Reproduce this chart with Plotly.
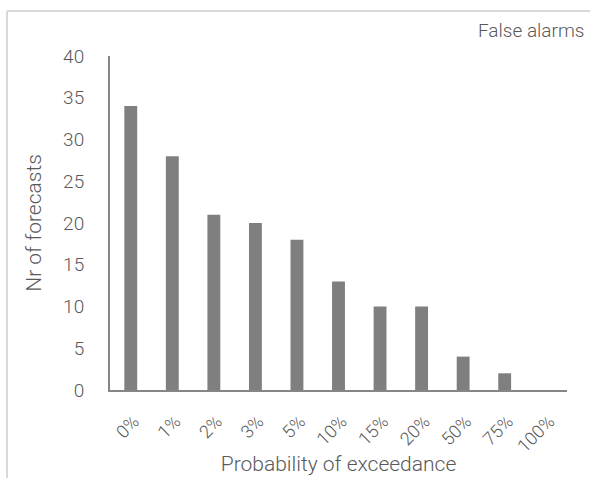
import plotly.graph_objects as go

categories = ["0%", "1%", "2%", "3%", "5%", "10%", "15%", "20%", "50%", "75%", "100%"]
forecasts = [34, 28, 21, 20, 18, 13, 10, 10, 4, 2, 0]
y_ticks = [0, 5, 10, 15, 20, 25, 30, 35, 40]

FONT = "Roboto, Liberation Sans, sans-serif"
TEXT = "#595959"

W, H = 590, 478
ML, MR, MT, MB = 110, 23, 56, 88
pw, ph = W - ML - MR, H - MT - MB


def px_x(x):
    return (x - ML) / pw


def px_y(y):
    return (H - MB - y) / ph


fig = go.Figure(go.Bar(
    x=categories, y=forecasts,
    marker=dict(color="#7f7f7f", line=dict(width=0)),
    width=0.31,
))

# light frame: top and left edges of the chart box
frame = dict(color="#d9d9d9", width=2)
fig.add_shape(type="line", xref="paper", yref="paper",
              x0=px_x(7), x1=px_x(W + 5), y0=px_y(11), y1=px_y(11), line=frame)
fig.add_shape(type="line", xref="paper", yref="paper",
              x0=px_x(7), x1=px_x(7), y0=px_y(11), y1=px_y(H + 5), line=frame)

fig.update_layout(
    width=W, height=H,
    margin=dict(l=ML, r=MR, t=MT, b=MB),
    paper_bgcolor="white", plot_bgcolor="white",
    showlegend=False,
    font=dict(family=FONT, color=TEXT, size=18, weight=300),
    annotations=[dict(text="False alarms", xref="paper", yref="paper",
                      x=px_x(W - 4), y=px_y(31),
                      xanchor="right", yanchor="middle", showarrow=False,
                      font=dict(family=FONT, size=19, color=TEXT, weight=300))],
)
fig.update_xaxes(
    automargin=False,
    showline=True, linecolor="#868686", linewidth=2,
    tickangle=-45, ticks="", showgrid=False,
    ticklabelstandoff=12, ticklabelshift=3,
    tickfont=dict(family=FONT, size=18, color=TEXT, weight=300),
    title=dict(text="Probability of exceedance",
               font=dict(family=FONT, size=21, color=TEXT, weight=300), standoff=1),
)
fig.update_yaxes(
    automargin=False,
    range=[0, 40], tickvals=y_ticks, showline=True, linecolor="#868686", linewidth=2,
    ticks="", showgrid=False, zeroline=False, ticklabelstandoff=20,
    tickfont=dict(family=FONT, size=19, color=TEXT, weight=300),
    title=dict(text="Nr of forecasts",
               font=dict(family=FONT, size=21, color=TEXT, weight=300), standoff=16),
)

fig.write_html("out.html")
